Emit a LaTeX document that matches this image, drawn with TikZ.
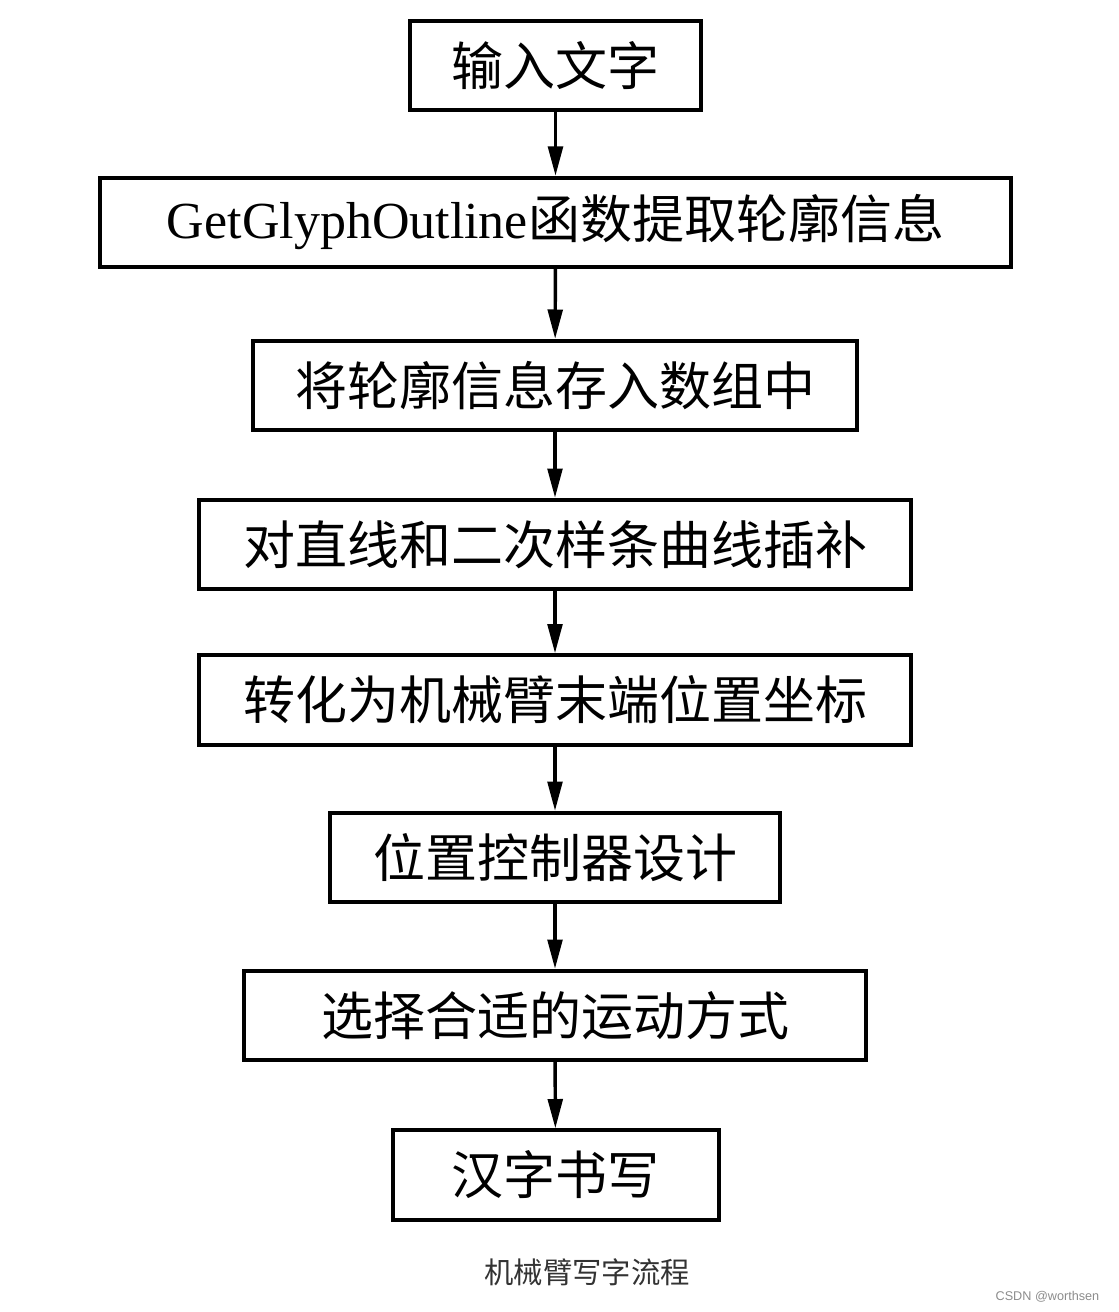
\documentclass[tikz,border=0pt]{standalone}
\usepackage{fontspec}
\setmainfont{Liberation Serif}
\newfontfamily\cjk{Noto Sans CJK SC}
\newfontfamily\wmfont{Liberation Sans}
\usetikzlibrary{arrows.meta}
\begin{document}
\begin{tikzpicture}[x=0.75pt,y=-0.75pt,
  box/.style={draw,line width=3pt,minimum height=67pt,inner sep=0pt,font=\fontsize{39}{42}\selectfont\cjk},
  flow/.style={line width=2.6pt,-{Triangle[length=22pt,width=11pt]}}]
\useasboundingbox (0,0) rectangle (1118,1312);
\node[box,minimum width=218.5pt] (n1) at (555.5,65.5) {输入文字};
\node[box,minimum width=683.5pt] (n2) at (555.5,222.5) {{\rmfamily GetGlyphOutline}函数提取轮廓信息};
\node[box,minimum width=453pt] (n3) at (555,385.5) {将轮廓信息存入数组中};
\node[box,minimum width=534pt] (n4) at (555,544.5) {对直线和二次样条曲线插补};
\node[box,minimum width=534pt] (n5) at (555,700) {转化为机械臂末端位置坐标};
\node[box,minimum width=338pt] (n6) at (555,857.5) {位置控制器设计};
\node[box,minimum width=467pt] (n7) at (555,1015.5) {选择合适的运动方式};
\node[box,minimum width=244.5pt] (n8) at (555.5,1175) {汉字书写};
\foreach \a/\b in {n1/n2,n2/n3,n3/n4,n4/n5,n5/n6,n6/n7,n7/n8}
  \draw[flow] (\a) -- (\b);
\node[font=\fontsize{22}{24}\selectfont\cjk,text=black!80] (cap) at (587,1272) {机械臂写字流程};
\node[font=\fontsize{9.5}{11}\selectfont\wmfont,text=black!45,anchor=east] (wm) at (1104,1297) {CSDN @worthsen};
\end{tikzpicture}
\end{document}
